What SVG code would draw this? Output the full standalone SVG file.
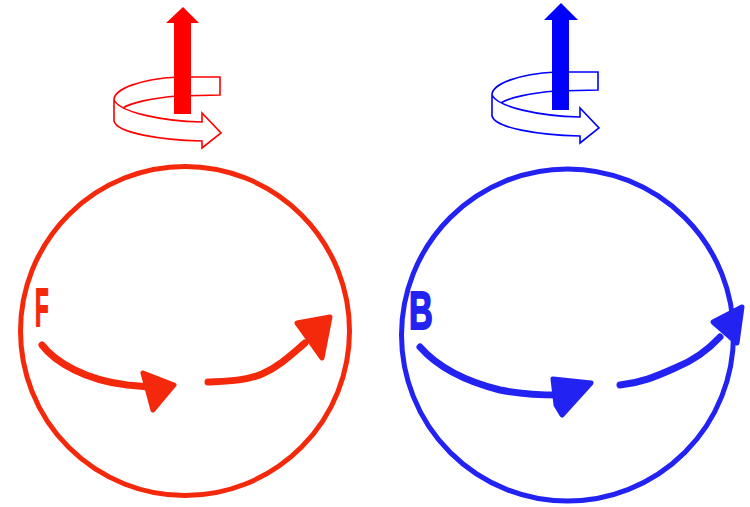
<svg xmlns="http://www.w3.org/2000/svg" width="750" height="507" viewBox="0 0 750 507">
<style>
.ring{fill:none;stroke-width:5}
.hand{fill:none;stroke-width:7;stroke-linecap:round;stroke-linejoin:round}
.head{stroke-width:5;stroke-linejoin:round}
.rib{fill:#fff;stroke-width:1.6;stroke-linejoin:miter}
.lbl{font-family:"Liberation Sans",Arial,sans-serif;font-weight:bold;font-size:53px;stroke-width:2;stroke-linejoin:round}
.red{stroke:#f4290c;fill:#f4290c}
.blue{stroke:#2222f2;fill:#2222f2}
</style>
<defs>
<g id="spin">
<path class="rib" d="M 178 77 L 220 77 L 220 95 L 178 96 C 152 98 130 103 123 108"/>
<path class="rib" d="M 178 77 C 140 79 114 89 114 100 L 114 121 C 117 133 160 140 202 141 L 202 148 L 221 133 L 202 113 L 202 122 C 160 121 120 112 114 100"/>
</g>
</defs>
<g id="rotation-red">
<use href="#spin" stroke="#ff0000"/>
<rect x="174" y="22" width="17" height="92" fill="#ff0000"/>
<polygon points="166,23 199,23 183,7" fill="#ff0000"/>
</g>
<g id="rotation-blue">
<use href="#spin" stroke="#0000ff" transform="translate(378,-5)"/>
<rect x="552" y="19" width="17" height="91" fill="#0000ff"/>
<polygon points="544,20 578,20 561,3" fill="#0000ff"/>
</g>
<g id="sphere-F">
<circle class="ring red" cx="185" cy="331" r="164.5" style="fill:none"/>
<text class="lbl red" transform="translate(35,326) scale(0.42,1)">F</text>
</g>
<g id="sphere-B">
<circle class="ring blue" cx="567.5" cy="335" r="166" style="fill:none"/>
<text class="lbl blue" transform="translate(409,329) scale(0.62,1)">B</text>
</g>
<g id="connectors">
<path class="hand red" style="fill:none" d="M 42 345 C 55 362 85 380 127 385 C 140 386 148 387 155 388"/>
<polygon class="head red" points="143,373 174,385 153,410"/>
<path class="hand red" style="fill:none" d="M 208 382 C 228 381 245 381 262 374 C 280 366 292 354 305 343"/>
<polygon class="head red" points="297,323 330,317 322,358"/>
<path class="hand blue" style="fill:none" d="M 420 347 C 435 364 460 380 500 390 C 525 395 545 395 560 395"/>
<polygon class="head blue" points="553,379 591,383 562,415 556,405"/>
<path class="hand blue" style="fill:none" d="M 620 385 C 640 383 655 377 675 368 C 695 360 708 350 720 337"/>
<polygon class="head blue" points="713,322 742,307 737,343"/>
</g>
</svg>
